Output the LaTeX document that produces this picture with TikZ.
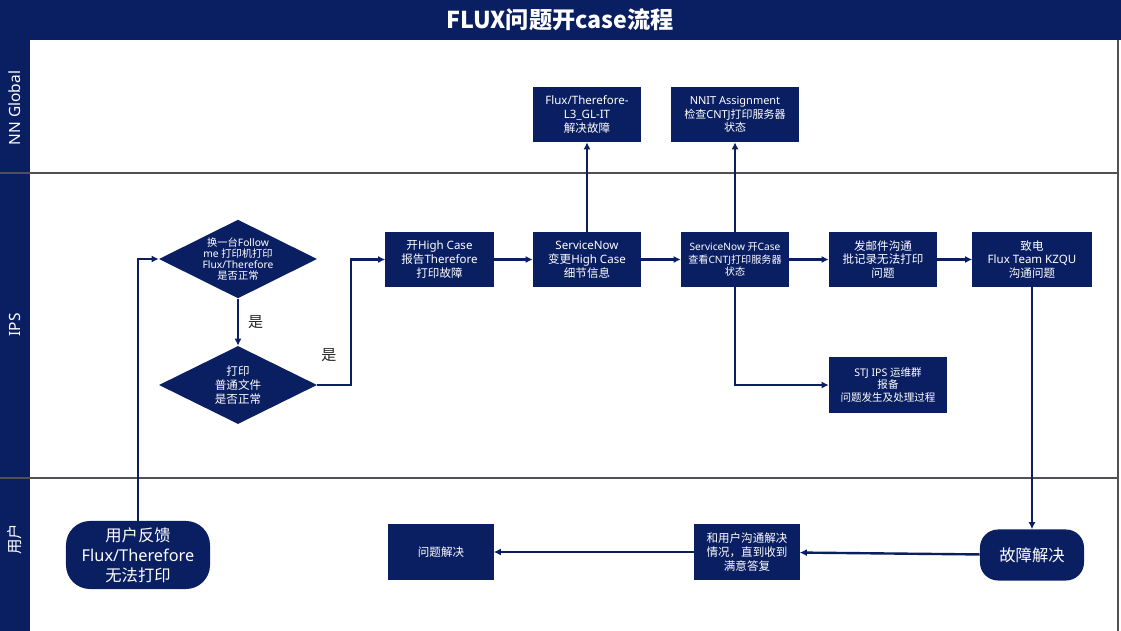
\documentclass[tikz,border=0pt]{standalone}
\usepackage{fontspec}
\setmainfont{Noto Sans}
\newfontfamily\cjk{Noto Sans CJK SC}
\newcommand{\zh}[1]{{\cjk #1}}
\usetikzlibrary{shapes.geometric,arrows.meta}
\definecolor{navy}{RGB}{10,30,98}
\definecolor{laneline}{RGB}{80,80,85}

\begin{document}
\begin{tikzpicture}[x=0.025cm,y=-0.025cm,
	box/.style={fill=navy,text=white,align=center,inner sep=1pt,
		minimum width=2.7cm,minimum height=1.375cm,font=\fontsize{8.2}{9.8}\selectfont},
	choice/.style={diamond,aspect=2,fill=navy,text=white,align=center,inner sep=0pt,
		minimum width=3.95cm,minimum height=1.95cm},
	term/.style={fill=navy,text=white,align=center,font=\fontsize{11.6}{14.2}\selectfont},
	arr/.style={draw=navy,line width=1.7pt,-{Latex[length=5pt,width=5pt]}},
	lane/.style={rotate=90,text=white,font=\fontsize{11}{12}\selectfont}]
	\useasboundingbox (0,0) rectangle (1121,631);
	\fill[navy] (0,0) rectangle (1121,40);
	\fill[navy] (0,40) rectangle (30,631);
	\draw[laneline,line width=0.8pt] (0,173) -- (1118,173);
	\draw[laneline,line width=0.8pt] (0,478) -- (1118,478);
	\draw[laneline,line width=0.8pt] (1118,40) -- (1118,631);
	\node[text=white,font=\fontsize{16.5}{18}\selectfont\cjk\bfseries] (title) at (560,20) {FLUX问题开case流程};
	\node[lane] (lgl) at (15,108) {NN Global};
	\node[lane] (lips) at (15,325) {IPS};
	\node[lane] (lusr) at (15,539) {\zh{用户}};

	\node[term,minimum width=3.6cm,minimum height=1.7cm,rounded corners=0.6cm] (fb) at (138,555) {\zh{用户反馈}\\Flux/Therefore\\\zh{无法打印}};
	\node[choice,font=\fontsize{7.3}{8}\selectfont] (chk1) at (238,259) {\zh{换一台}Follow\\me \zh{打印机打印}\\Flux/Therefore\\\zh{是否正常}};
	\node[choice,font=\fontsize{8.2}{9.8}\selectfont] (chk2) at (238,385) {\zh{打印}\\\zh{普通文件}\\\zh{是否正常}};
	\node[box] (high) at (439.5,259.5) {\zh{开}High Case\\\zh{报告}Therefore\\\zh{打印故障}};
	\node[box] (snow) at (587,259.5) {ServiceNow\\\zh{变更}High Case\\\zh{细节信息}};
	\node[box,font=\fontsize{7.2}{8.9}\selectfont] (snc) at (735,259.5) {ServiceNow \zh{开}Case\\\zh{查看}CNTJ\zh{打印服务器}\\\zh{状态}};
	\node[box] (mail) at (883,259.5) {\zh{发邮件沟通}\\\zh{批记录无法打印}\\\zh{问题}};
	\node[box,minimum width=2.975cm] (call) at (1032,259.5) {\zh{致电}\\Flux Team KZQU\\\zh{沟通问题}};
	\node[box] (lthree) at (587,114.5) {Flux/Therefore-\\L3\_GL-IT\\\zh{解决故障}};
	\node[box,minimum width=3.2cm,font=\fontsize{7.8}{9.6}\selectfont] (nnit) at (735,114.5) {NNIT Assignment\\\zh{检查}CNTJ\zh{打印服务器}\\\zh{状态}};
	\node[box,minimum width=2.95cm,font=\fontsize{7.5}{9}\selectfont] (stj) at (888,385) {STJ IPS \zh{运维群}\\\zh{报备}\\\zh{问题发生及处理过程}};
	\node[term,minimum width=2.6cm,minimum height=1.275cm,rounded corners=0.45cm] (fixed) at (1032,555) {\zh{故障解决}};
	\node[box,minimum width=2.625cm] (talk) at (747,552) {\zh{和用户沟通解决}\\\zh{情况，直到收到}\\\zh{满意答复}};
	\node[box,minimum width=2.625cm] (done) at (441,552) {\zh{问题解决}};
	\coordinate (turn) at (351,385);
	\node[font=\fontsize{10.7}{12}\selectfont\cjk,text=black!85] (yes2) at (329,355) {是};

	\draw[arr] (fb.north) |- (chk1.west);
	\draw[arr] (chk1.south) -- node[right=3pt,text=black!85,font=\fontsize{10.7}{12}\selectfont\cjk] {是} (chk2.north);
	\draw[arr] (chk2.east) -- (turn) |- (high.west);
	\draw[arr] (high) -- (snow);
	\draw[arr] (snow) -- (snc);
	\draw[arr] (snc) -- (mail);
	\draw[arr] (mail) -- (call);
	\draw[arr] (snow) -- (lthree);
	\draw[arr] (snc) -- (nnit);
	\draw[arr] (snc.south) |- (stj.west);
	\draw[arr] (call) -- (fixed);
	\draw[arr] (fixed) -- (talk);
	\draw[arr] (talk) -- (done);
\end{tikzpicture}
\end{document}
